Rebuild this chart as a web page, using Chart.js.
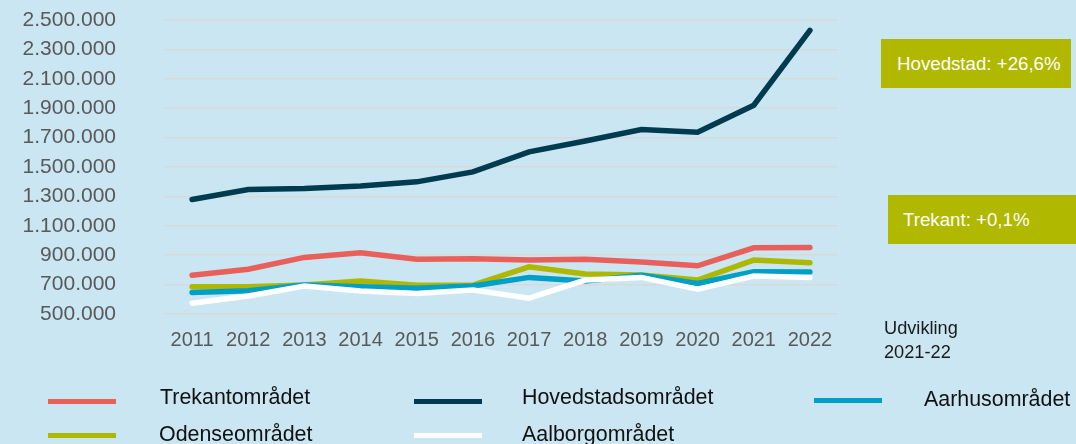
<!DOCTYPE html>
<html><head><meta charset="utf-8">
<script src="https://cdn.jsdelivr.net/npm/chart.js@4"></script>
<style>
html,body{margin:0;padding:0;background:#c9e6f2;width:1076px;height:444px;overflow:hidden;font-family:"Liberation Sans",Arial,sans-serif;}
#wrap{position:absolute;left:0;top:0;width:1076px;height:444px;}
.box{position:absolute;background:#b0b800;color:#fff;font-size:18.7px;display:flex;align-items:center;}
.note{position:absolute;color:#1a1a1a;font-size:18.2px;line-height:24px;}
.m{position:absolute;height:5px;width:68px;}
.t{position:absolute;white-space:nowrap;font-size:21.4px;line-height:21.4px;color:#111;}
</style></head>
<body>
<div id="wrap"><canvas id="c" width="1076" height="444"></canvas></div>
<div class="box" style="left:881px;top:39px;width:190px;height:49px;"><span style="padding-left:16px">Hovedstad: +26,6%</span></div>
<div class="box" style="left:888px;top:195px;width:188px;height:49px;"><span style="padding-left:15px">Trekant: +0,1%</span></div>
<div class="note" style="left:884px;top:316px;">Udvikling<br>2021-22</div>
<div id="legend"></div>
<script>
const years = ['2011','2012','2013','2014','2015','2016','2017','2018','2019','2020','2021','2022'];
const trekant    = [763000, 804000, 885000, 916000, 872000, 876000, 867000, 872000, 853000, 828000, 950000, 953000];
const hovedstad  = [1279000,1347000,1354000,1370000,1399000,1467000,1603000,1677000,1755000,1736000,1920000,2429000];
const aarhus     = [647000, 658000, 697000, 686000, 675000, 690000, 749000, 724000, 763000, 708000, 787000, 785000];
const odense     = [686000, 686000, 697000, 724000, 695000, 697000, 821000, 772000, 765000, 731000, 867000, 849000];
const aalborg    = [573000, 622000, 690000, 656000, 640000, 663000, 608000, 731000, 749000, 668000, 758000, 749000];
const yTicks     = [500000,700000,900000,1100000,1300000,1500000,1700000,1900000,2100000,2300000,2500000];

const series = [
  {label:'Aalborgområdet', data:aalborg, color:'#ffffff'},
  {label:'Aarhusområdet', data:aarhus, color:'#009fc6'},
  {label:'Odenseområdet', data:odense, color:'#afb800'},
  {label:'Trekantområdet', data:trekant, color:'#e9605b'},
  {label:'Hovedstadsområdet', data:hovedstad, color:'#003b4f'}
];

const fmt = v => v.toLocaleString('de-DE');

new Chart(document.getElementById('c'), {
  type:'line',
  data:{
    labels:years,
    datasets:series.map(s=>({label:s.label,data:s.data,borderColor:s.color,backgroundColor:s.color,borderWidth:5.5,pointRadius:0,borderCapStyle:'round',borderJoinStyle:'miter',tension:0,fill:false}))
  },
  options:{
    responsive:false,animation:false,
    layout:{padding:{left:0,top:20,right:238,bottom:80}},
    plugins:{legend:{display:false},tooltip:{enabled:false}},
    scales:{
      x:{offset:true,grid:{display:false,drawTicks:false},border:{display:false},
         ticks:{padding:14,autoSkip:false,maxRotation:0,color:'#595959',font:{family:'"Liberation Sans", Arial',size:20}},
         afterFit:s=>{s.height=50;}},
      y:{min:500000,max:2500000,
         afterBuildTicks:s=>{s.ticks=yTicks.map(v=>({value:v}));},
         grid:{color:'#d8d9da',lineWidth:1.5,drawTicks:true,tickLength:48,tickColor:'rgba(0,0,0,0)'},border:{display:false},
         ticks:{padding:0,autoSkip:false,color:'#595959',font:{family:'"Liberation Sans", Arial',size:21},callback:v=>fmt(v)},
         afterFit:s=>{s.width=164;}}
    }
  }
});

// HTML legend built from the series
const legendLayout = [
  {label:'Trekantområdet',    mx:48,  my:401, tx:160, ty:387},
  {label:'Hovedstadsområdet', mx:414, my:401, tx:522, ty:387},
  {label:'Aarhusområdet',     mx:814, my:400, tx:924, ty:389},
  {label:'Odenseområdet',     mx:48,  my:435, tx:159, ty:424},
  {label:'Aalborgområdet',    mx:414, my:435, tx:522, ty:424}
];
const lg = document.getElementById('legend');
legendLayout.forEach(it=>{
  const s = series.find(z=>z.label===it.label);
  const m = document.createElement('div'); m.className='m';
  m.style.background=s.color; m.style.left=it.mx+'px'; m.style.top=(it.my-2.5)+'px';
  const t = document.createElement('div'); t.className='t';
  t.textContent=s.label; t.style.left=it.tx+'px'; t.style.top=it.ty+'px';
  lg.appendChild(m); lg.appendChild(t);
});
</script>
</body></html>
